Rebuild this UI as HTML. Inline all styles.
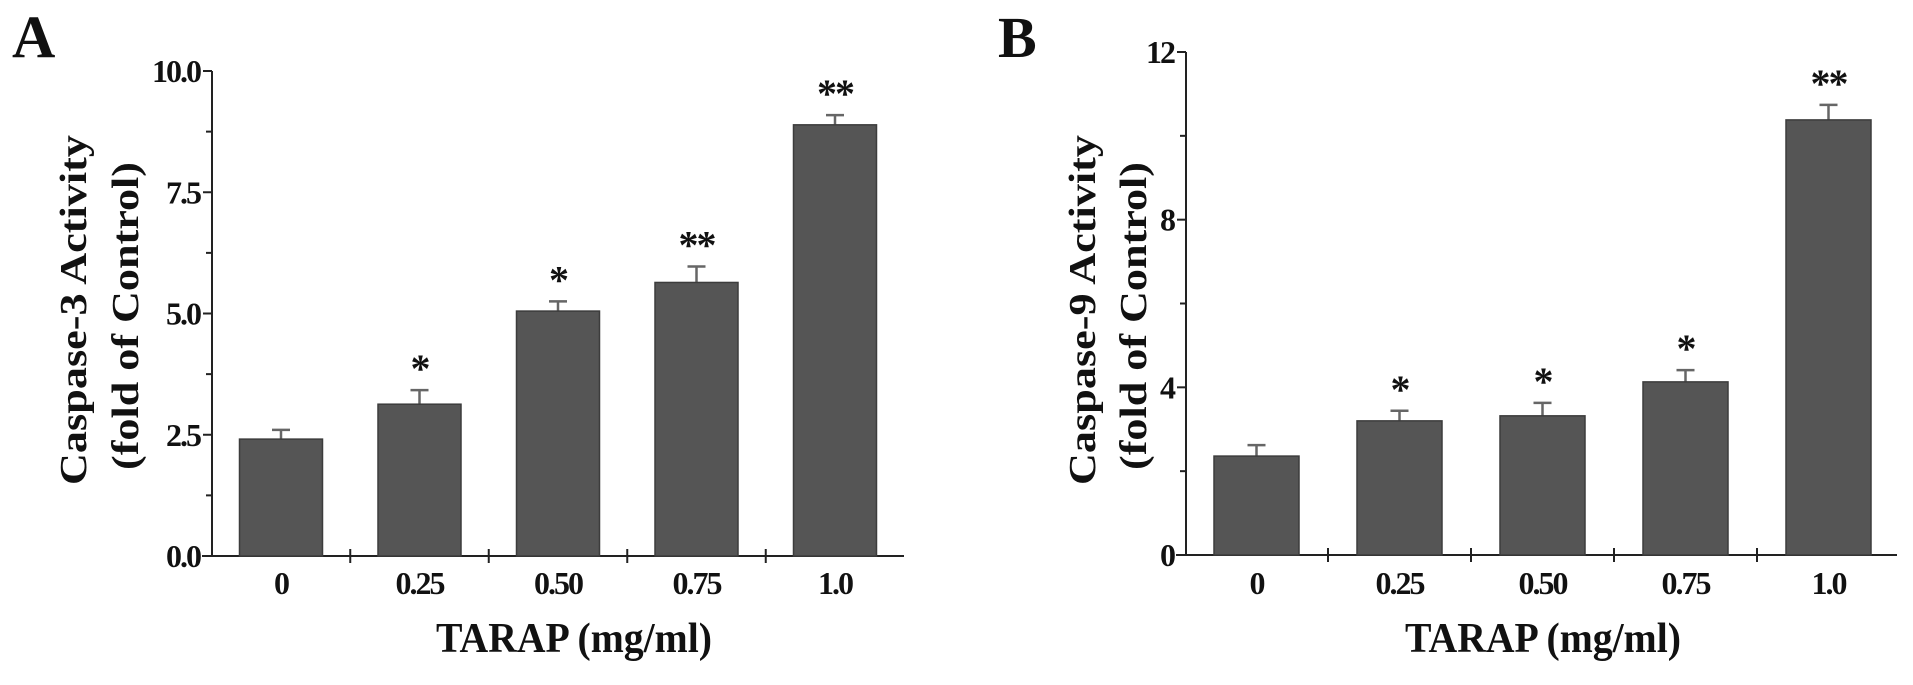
<!DOCTYPE html>
<html><head><meta charset="utf-8"><style>
html,body{margin:0;padding:0;background:#fff;}
svg{display:block;}
text{font-family:"Liberation Serif","Times New Roman",serif;font-weight:bold;fill:#111;}
</style></head><body>
<svg id="fig" width="1913" height="685" viewBox="0 0 1913 685" xmlns="http://www.w3.org/2000/svg">
<text x="12" y="57" font-size="60">A</text>
<text x="998" y="57" font-size="58">B</text>
<g id="panelA"></g>
<g id="panelB"></g>
</svg>
<script>
const categories = ["0", "0.25", "0.50", "0.75", "1.0"];
const caspase3Values = [2.41, 3.13, 5.05, 5.64, 8.89];
const caspase3Errors = [0.19, 0.29, 0.20, 0.33, 0.20];
const caspase3Stars = ["", "*", "*", "**", "**"];
const caspase3Ticks = ["0.0", "2.5", "5.0", "7.5", "10.0"];
const caspase9Values = [2.36, 3.20, 3.32, 4.13, 10.38];
const caspase9Errors = [0.26, 0.24, 0.31, 0.28, 0.36];
const caspase9Stars = ["", "*", "*", "*", "**"];
const caspase9Ticks = ["0", "4", "8", "12"];

const NS = "http://www.w3.org/2000/svg";
function mk(parent, tag, attrs, txt) {
  const e = document.createElementNS(NS, tag);
  for (const k in attrs) e.setAttribute(k, attrs[k]);
  if (txt !== undefined) e.textContent = txt;
  parent.appendChild(e);
  return e;
}

function drawPanel(g, cfg, values, errors, stars, ticks) {
  const y = v => cfg.y0 - (v - 0) / cfg.yMax * (cfg.y0 - cfg.yTop);
  const x = i => cfg.firstCenter + i * cfg.step;
  const bw = cfg.barW;
  let ax = mk(g, "line", {x1: cfg.ax, y1: cfg.yTop, x2: cfg.ax, y2: cfg.y0, stroke: "#222", "stroke-width": 2});
  
  
  let xa = mk(g, "line", {x1: cfg.ax - 10, y1: cfg.y0, x2: cfg.xEnd, y2: cfg.y0, stroke: "#222", "stroke-width": 2});
  
  
  const nMaj = ticks.length - 1;
  for (let k = 0; k <= nMaj * 2; k++) {
    const v = cfg.yMax * k / (nMaj * 2);
    const yy = y(v);
    const major = k % 2 === 0;
    let t = mk(g, "line", {x1: cfg.ax - (major ? 9 : 6), y1: yy, x2: cfg.ax, y2: yy, stroke: "#222", "stroke-width": 2});
    
    
    if (major) {
      const lab = ticks[k / 2];
      let tl = mk(g, "text", {x: cfg.ax - 12, y: yy + 11, "font-size": 32, "text-anchor": "end", "letter-spacing": "-2"}, lab);
      
      
    }
  }
  for (let i = 0; i < categories.length - 1; i++) {
    const xx = x(i) + cfg.step / 2;
    let t = mk(g, "line", {x1: xx, y1: cfg.y0 - 7, x2: xx, y2: cfg.y0 + 7, stroke: "#222", "stroke-width": 2});
    
    
  }
  for (let i = 0; i < categories.length; i++) {
    const cx = x(i), top = y(values[i]), et = y(values[i] + errors[i]);
    let eb = mk(g, "line", {x1: cx, y1: top, x2: cx, y2: et, stroke: "#666", "stroke-width": 2.5});
    
    
    let cap = mk(g, "line", {x1: cx - 9, y1: et, x2: cx + 9, y2: et, stroke: "#666", "stroke-width": 2.5});
    
    
    let b = mk(g, "rect", {x: cx - bw / 2, y: top, width: bw, height: cfg.y0 - top, fill: "#555555", stroke: "#3c3c3c", "stroke-width": 1.5});
    
    
    if (stars[i]) {
      let s = mk(g, "text", {x: cx, y: et - 8, "font-size": 40, "text-anchor": "middle", "letter-spacing": "-2"}, stars[i]);
      
      
    }
    let xl = mk(g, "text", {x: cx, y: 594, "font-size": 32, "text-anchor": "middle", "letter-spacing": "-2"}, categories[i]);
    
    
  }
  let xt = mk(g, "text", {x: cfg.xTitleX, y: 652, "font-size": 42, "text-anchor": "middle", textLength: 276, lengthAdjust: "spacingAndGlyphs"}, "TARAP (mg/ml)");
  
  
  let yt1 = mk(g, "text", {x: 0, y: 0, "font-size": 38, "text-anchor": "middle", textLength: 350, lengthAdjust: "spacingAndGlyphs", transform: "translate(" + cfg.yt1 + "," + cfg.ytCy + ") rotate(-90)"}, cfg.title1);
  
  
  let yt2 = mk(g, "text", {x: 0, y: 0, "font-size": 38, "text-anchor": "middle", textLength: 308, lengthAdjust: "spacingAndGlyphs", transform: "translate(" + cfg.yt2 + "," + (cfg.ytCy + 6) + ") rotate(-90)"}, "(fold of Control)");
  
  
}

drawPanel(document.getElementById("panelA"),
  {ax: 212, y0: 556, yTop: 71, yMax: 10, firstCenter: 281, step: 138.5, barW: 83, xEnd: 904,
   xTitleX: 574, yt1: 86, yt2: 138, ytCy: 310, title1: "Caspase-3 Activity"},
  caspase3Values, caspase3Errors, caspase3Stars, caspase3Ticks);
drawPanel(document.getElementById("panelB"),
  {ax: 1186, y0: 555, yTop: 52, yMax: 12, firstCenter: 1256.5, step: 143, barW: 85, xEnd: 1897,
   xTitleX: 1543, yt1: 1095, yt2: 1146, ytCy: 310, title1: "Caspase-9 Activity"},
  caspase9Values, caspase9Errors, caspase9Stars, caspase9Ticks);
</script>
</body></html>
